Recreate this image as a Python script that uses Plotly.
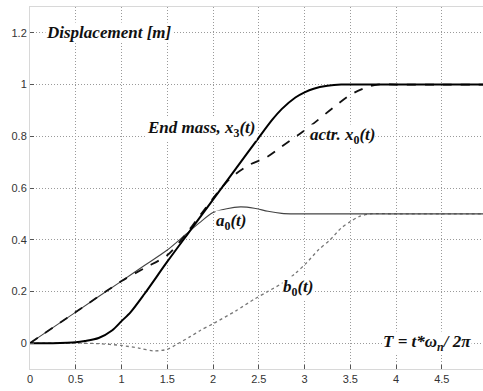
import plotly.graph_objects as go

# End mass x3(t)
t_x3 = [0, 0.25, 0.5, 0.6, 0.75, 0.9, 1.0, 1.1, 1.25, 1.5, 1.75, 2.0, 2.25, 2.5, 2.65, 2.75, 2.9, 3.0, 3.1, 3.25, 3.4, 3.6, 4.0, 4.5, 4.95]
x3 = [0, 0, 0.003, 0.008, 0.02, 0.05, 0.085, 0.12, 0.19, 0.315, 0.435, 0.555, 0.675, 0.795, 0.865, 0.905, 0.95, 0.97, 0.984, 0.995, 1.0, 1.0, 1.0, 1.0, 1.0]

# Actuator x0(t)
t_x0 = [0, 0.5, 1.0, 1.25, 1.5, 1.7, 1.85, 2.0, 2.14, 2.25, 2.4, 2.59, 2.75, 2.95, 3.1, 3.31, 3.5, 3.68, 3.8, 4.0, 4.5, 4.95]
x0 = [0, 0.12, 0.24, 0.29, 0.34, 0.42, 0.49, 0.56, 0.62, 0.655, 0.69, 0.72, 0.76, 0.81, 0.85, 0.91, 0.96, 0.99, 1.0, 1.0, 1.0, 1.0]

# a0(t)
t_a0 = [0, 0.5, 1.0, 1.25, 1.5, 1.7, 1.85, 2.0, 2.15, 2.3, 2.45, 2.6, 2.75, 2.9, 3.2, 4.0, 4.95]
a0 = [0, 0.12, 0.24, 0.30, 0.36, 0.42, 0.465, 0.505, 0.52, 0.527, 0.522, 0.51, 0.502, 0.5, 0.5, 0.5, 0.5]

# b0(t)
t_b0 = [0, 0.5, 0.75, 1.0, 1.2, 1.35, 1.5, 1.6, 1.75, 1.86, 2.0, 2.25, 2.45, 2.6, 2.77, 2.9, 3.02, 3.15, 3.28, 3.4, 3.5, 3.6, 3.72, 4.0, 4.95]
b0 = [0, 0, -0.002, -0.009, -0.02, -0.03, -0.024, -0.005, 0.025, 0.049, 0.075, 0.125, 0.17, 0.2, 0.235, 0.27, 0.31, 0.36, 0.40, 0.445, 0.47, 0.49, 0.5, 0.5, 0.5]

x_ticks = [0, 0.5, 1, 1.5, 2, 2.5, 3, 3.5, 4, 4.5]
x_tick_labels = ["0", "0.5", "1", "1.5", "2", "2.5", "3", "3.5", "4", "4.5"]
y_ticks = [0, 0.2, 0.4, 0.6, 0.8, 1.0, 1.2]
y_tick_labels = ["0", "0.2", "0.4", "0.6", "0.8", "1", "1.2"]

fig = go.Figure()
fig.add_trace(go.Scatter(x=t_b0, y=b0, mode="lines",
                         line=dict(color="#777777", width=1.3, dash="dot", shape="spline", smoothing=0.8)))
fig.add_trace(go.Scatter(x=t_a0, y=a0, mode="lines",
                         line=dict(color="#444444", width=1.1, shape="spline", smoothing=0.8)))
fig.add_trace(go.Scatter(x=t_x0, y=x0, mode="lines",
                         line=dict(color="#111111", width=1.8, dash="dash", shape="spline", smoothing=0.8)))
fig.add_trace(go.Scatter(x=t_x3, y=x3, mode="lines",
                         line=dict(color="#000000", width=2.0, shape="spline", smoothing=0.8)))


def label(x, y, anchor, text):
    fig.add_annotation(x=x, y=y, xref="x", yref="y", xanchor=anchor, yanchor="middle",
                       showarrow=False, text=text, bgcolor="white", borderpad=0,
                       font=dict(family="Liberation Serif", size=17, color="#111111"))


label(0.16, 1.2, "left", "<b><i>Displacement [m]</i></b>")
label(2.48, 0.83, "right", "<b><i>End mass, x</i><sub>3</sub><i>(t)</i></b>")
label(3.05, 0.80, "left", "<b><i>actr. x</i><sub>0</sub><i>(t)</i></b>")
label(2.02, 0.47, "left", "<b><i>a</i><sub>0</sub><i>(t)</i></b>")
label(2.75, 0.213, "left", "<b><i>b</i><sub>0</sub><i>(t)</i></b>")
label(3.85, 0.0, "left", "<b><i>T = t*ω</i><sub><i>n</i></sub><i>/ 2π</i></b>")

tickfont = dict(family="Liberation Sans", size=11, color="#333333")
fig.update_layout(
    width=483, height=391,
    margin=dict(l=30, r=0, t=7, b=22, autoexpand=False),
    paper_bgcolor="white", plot_bgcolor="white",
    showlegend=False,
)
fig.update_xaxes(range=[0, 4.95], tickvals=x_ticks, ticktext=x_tick_labels, automargin=False,
                 tickfont=tickfont,
                 showgrid=True, gridcolor="#9a9a9a", griddash="1px,2px", gridwidth=1,
                 zeroline=False, showline=True, linecolor="#d8d8d8", mirror=True,
                 ticks="inside", ticklen=4, tickcolor="#555555")
fig.update_yaxes(range=[-0.1, 1.3], tickvals=y_ticks, ticktext=y_tick_labels, automargin=False,
                 tickfont=tickfont,
                 showgrid=True, gridcolor="#9a9a9a", griddash="1px,2px", gridwidth=1,
                 zeroline=False, showline=True, linecolor="#d8d8d8", mirror=True,
                 ticks="inside", ticklen=4, tickcolor="#555555")

fig.write_html("out.html", config={"displayModeBar": False},
               post_script="document.body.style.margin='0';document.body.style.padding='0';")
